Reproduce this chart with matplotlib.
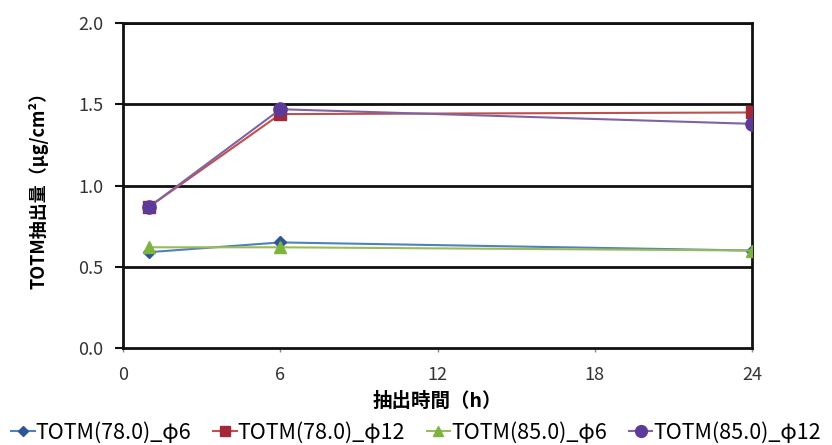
import matplotlib
matplotlib.use("Agg")
import matplotlib.pyplot as plt
from matplotlib.lines import Line2D

plt.rcParams['font.family'] = ['Noto Sans CJK JP', 'DejaVu Sans']

hours = [1, 6, 24]
series_names = ["TOTM(78.0)_φ6", "TOTM(78.0)_φ12", "TOTM(85.0)_φ6", "TOTM(85.0)_φ12"]
totm78_phi6 = [0.59, 0.65, 0.60]
totm78_phi12 = [0.87, 1.44, 1.45]
totm85_phi6 = [0.62, 0.62, 0.60]
totm85_phi12 = [0.87, 1.47, 1.38]
x_ticks = [0, 6, 12, 18, 24]
y_ticks = [0.0, 0.5, 1.0, 1.5, 2.0]

values = [totm78_phi6, totm78_phi12, totm85_phi6, totm85_phi12]
line_colors = ["#4F81BD", "#C0504D", "#9BBB59", "#8064A2"]
marker_colors = ["#2F5597", "#A3283A", "#7DB33F", "#5B3A9A"]
markers = ["D", "s", "^", "o"]
msizes = [6, 8.5, 8.5, 9.5]

fig = plt.figure(figsize=(8.32, 4.45), dpi=100)
ax = fig.add_axes([0.148, 0.218, 0.756, 0.730])

for i in [0, 2, 1, 3]:
    ax.plot(hours, values[i], color=line_colors[i], lw=1.5,
            marker=markers[i], markersize=msizes[i],
            markerfacecolor=marker_colors[i], markeredgecolor=marker_colors[i],
            zorder=3)

ax.set_xlim(0, 24)
ax.set_ylim(0, 2.0)
ax.set_xticks(x_ticks)
ax.set_yticks(y_ticks)
ax.set_yticklabels([f"{v:.1f}" for v in y_ticks])
for y in y_ticks[1:]:
    ax.axhline(y, color="#111111", lw=2.0, zorder=1)

for s in ["left", "right", "bottom", "top"]:
    ax.spines[s].set_color("#111111")
    ax.spines[s].set_linewidth(2.0)

ax.tick_params(axis="y", direction="out", length=6, width=1.5, colors="#111111",
               labelsize=13, labelcolor="#333333", pad=8)
ax.tick_params(axis="x", direction="out", length=3, width=1, colors="#888888",
               labelsize=13, labelcolor="#333333", pad=10)

ax.set_xlabel("抽出時間（h）", fontsize=14, fontweight="bold", labelpad=6)
ax.set_ylabel("TOTM抽出量（μg/cm²）", fontsize=13, fontweight="bold", labelpad=22)

handles = [Line2D([0], [0], color=line_colors[i], lw=1.5, marker=markers[i],
                  markersize=msizes[i] - 1, markerfacecolor=marker_colors[i],
                  markeredgecolor=marker_colors[i]) for i in range(4)]
fig.legend(handles, series_names, loc="lower center", bbox_to_anchor=(0.5, -0.04),
           ncol=4, frameon=False, fontsize=15.5, handlelength=1.1,
           handletextpad=0.05, columnspacing=1.0)

fig.savefig("out.png", dpi=100)
